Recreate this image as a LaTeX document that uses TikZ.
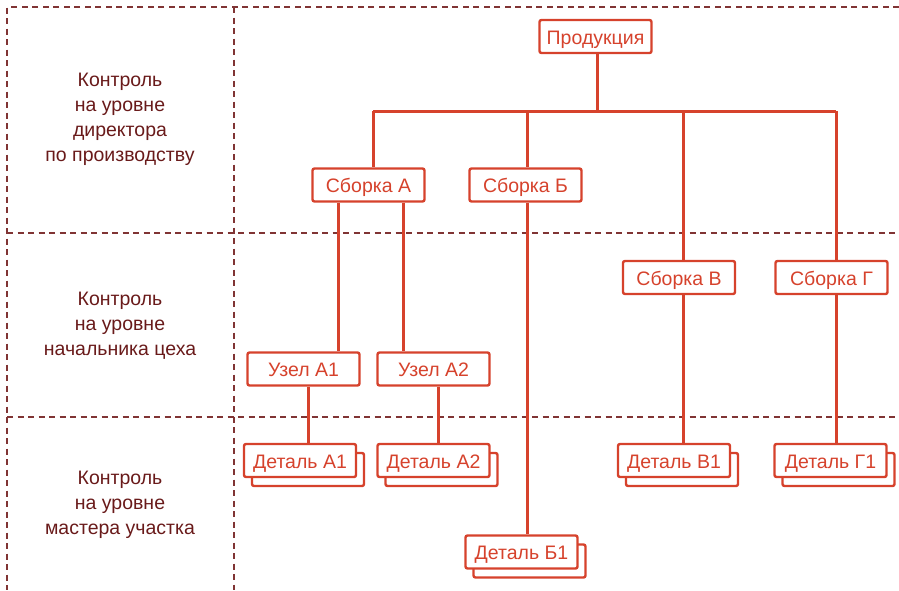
\documentclass[tikz,border=0pt]{standalone}
\usepackage{fontspec}
\setmainfont{Liberation Sans}
\definecolor{boxred}{RGB}{214,66,44}
\definecolor{gridbrown}{RGB}{128,52,52}
\definecolor{labelbrown}{RGB}{105,26,26}
\tikzset{
  unit/.style={draw=boxred, line width=2.4pt, fill=white, rounded corners=2pt,
    minimum width=112pt, minimum height=33pt, inner sep=0pt,
    text height=15pt, text depth=0pt,
    text=boxred, font=\fontsize{19.5}{22}\selectfont},
  unitback/.style={unit},
  link/.style={draw=boxred, line width=3pt},
  zone/.style={draw=gridbrown, line width=1.6pt, dash pattern=on 6pt off 4.5pt},
  levellabel/.style={align=center, text=labelbrown,
    font=\fontsize{19.5}{25}\selectfont}
}
\begin{document}
\begin{tikzpicture}[x=1pt,y=-1pt]
\useasboundingbox (0,0) rectangle (899,590);

% control-level zones
\draw[zone] (899,7) -- (7,7) -- (7,590);
\draw[zone] (234,7) -- (234,590);
\draw[zone] (7,233) -- (899,233);
\draw[zone] (7,417) -- (899,417);

\node[levellabel] (l1) at (120,119) {Контроль\\на уровне\\директора\\по производству};
\node[levellabel] (l2) at (120,326) {Контроль\\на уровне\\начальника цеха};
\node[levellabel] (l3) at (120,505) {Контроль\\на уровне\\мастера участка};

% x positions of the vertical links
\coordinate (xP) at (597,0);
\coordinate (xA) at (373,0);
\coordinate (xB) at (527,0);
\coordinate (xV) at (683,0);
\coordinate (xG) at (836,0);
\coordinate (xA1t) at (338,0);
\coordinate (xA2t) at (403,0);
\coordinate (xA1b) at (308,0);
\coordinate (xA2b) at (438,0);
\coordinate (busL) at (373,111);
\coordinate (busR) at (836,111);

% product tree
\node[unit] (prod) at (595.5,36.5) {Продукция};
\node[unit] (sa) at (368.5,185) {Сборка А};
\node[unit] (sb) at (525.5,185) {Сборка Б};
\node[unit] (sv) at (679,277.5) {Сборка В};
\node[unit] (sg) at (831.5,277.5) {Сборка Г};
\node[unit] (ua1) at (303.5,369) {Узел А1};
\node[unit] (ua2) at (433.5,369) {Узел А2};

% parts: a stacked pair of boxes each
\node[unitback] (da1s) at (308,469.5) {};
\node[unit] (da1) at (300,460.5) {Деталь А1};
\node[unitback] (da2s) at (441.5,469.5) {};
\node[unit] (da2) at (433.5,460.5) {Деталь А2};
\node[unitback] (db1s) at (529.5,561) {};
\node[unit] (db1) at (521.5,552) {Деталь Б1};
\node[unitback] (dv1s) at (682,469.5) {};
\node[unit] (dv1) at (674,460.5) {Деталь В1};
\node[unitback] (dg1s) at (838.5,469.5) {};
\node[unit] (dg1) at (830.5,460.5) {Деталь Г1};

% links
\draw[link] (prod.south -| xP) -- (busL -| xP);
\draw[link] (busL) -- (busR);
\draw[link] (busL) -- (sa.north -| xA);
\draw[link] (busL -| xB) -- (sb.north -| xB);
\draw[link] (busL -| xV) -- (sv.north -| xV);
\draw[link] (busR) -- (sg.north -| xG);
\draw[link] (sb.south -| xB) -- (db1.north -| xB);
\draw[link] (sv.south -| xV) -- (dv1.north -| xV);
\draw[link] (sg.south -| xG) -- (dg1.north -| xG);
\draw[link] (sa.south -| xA1t) -- (ua1.north -| xA1t);
\draw[link] (sa.south -| xA2t) -- (ua2.north -| xA2t);
\draw[link] (ua1.south -| xA1b) -- (da1.north -| xA1b);
\draw[link] (ua2.south -| xA2b) -- (da2.north -| xA2b);
\end{tikzpicture}
\end{document}
